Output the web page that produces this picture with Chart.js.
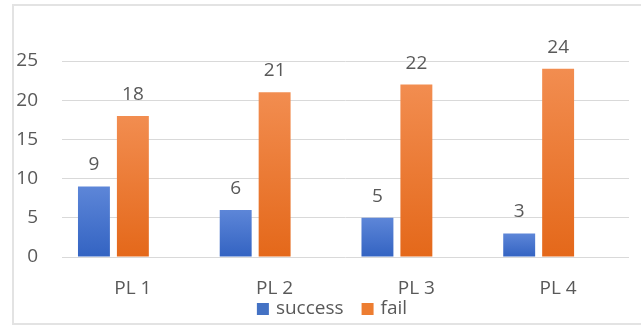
<!DOCTYPE html>
<html>
<head>
<meta charset="utf-8">
<script src="https://cdn.jsdelivr.net/npm/chart.js@4"></script>
<style>
  body { margin: 0; background: #fff; }
  .frame { position: absolute; left: 12px; top: 4px; width: 640px; height: 317px;
           border-left: 2px solid #e3e3e3; border-top: 2px solid #e3e3e3; border-bottom: 2px solid #e3e3e3; }
  .wrap { position: absolute; left: 0; top: 0; width: 641px; height: 325px; }
</style>
</head>
<body>
<div class="frame"></div>
<div class="wrap"><canvas id="chart"></canvas></div>
<script>
// datos del gráfico
const categories = ['PL 1', 'PL 2', 'PL 3', 'PL 4'];
const success = [9, 6, 5, 3];
const fail = [18, 21, 22, 24];
const emptySeries = [null, null, null, null]; // tercera serie vacía (desplaza las barras)
const yTicks = [0, 5, 10, 15, 20, 25];

const FONT = '"Open Sans", "Noto Sans", sans-serif';
const SIZE = 19;
const TEXT = '#595959';
const BLUE = '#4472c4';
const ORANGE = '#ed7d31';

// degradado vertical por barra
function barGradient(top, bottom) {
    return function(context) {
        const chart = context.chart;
        const y = chart.scales.y;
        if (!y || context.raw == null) return bottom;
        const y0 = y.getPixelForValue(0);
        const y1 = y.getPixelForValue(context.raw);
        if (!isFinite(y0) || !isFinite(y1) || y0 === y1) return bottom;
        const g = chart.ctx.createLinearGradient(0, y1, 0, y0);
        g.addColorStop(0, top);
        g.addColorStop(1, bottom);
        return g;
    };
}

// etiquetas de valor encima de cada barra
const valueLabels = {
    id: 'valueLabels',
    afterDatasetsDraw(chart) {
        const ctx = chart.ctx;
        ctx.save();
        ctx.font = SIZE + 'px ' + FONT;
        ctx.fillStyle = TEXT;
        ctx.textAlign = 'center';
        ctx.textBaseline = 'alphabetic';
        chart.data.datasets.forEach((ds, i) => {
            const meta = chart.getDatasetMeta(i);
            meta.data.forEach((bar, j) => {
                const v = ds.data[j];
                if (v == null) return;
                ctx.fillText(String(v), bar.x, bar.y - 16);
            });
        });
        ctx.restore();
    }
};

// leyenda propia abajo
const bottomLegend = {
    id: 'bottomLegend',
    afterDraw(chart) {
        const ctx = chart.ctx;
        const items = [['success', BLUE], ['fail', ORANGE]];
        const cy = 309;
        ctx.save();
        ctx.font = SIZE + 'px ' + FONT;
        ctx.textBaseline = 'middle';
        ctx.textAlign = 'left';
        let total = 0;
        items.forEach(([t], i) => { total += 12 + 7 + ctx.measureText(t).width + (i ? 0 : 18); });
        let x = 332 - total / 2;
        items.forEach(([t, c]) => {
            ctx.fillStyle = c;
            ctx.fillRect(x, cy - 6, 12, 12);
            x += 12 + 7;
            ctx.fillStyle = TEXT;
            ctx.fillText(t, x, cy);
            x += ctx.measureText(t).width + 18;
        });
        ctx.restore();
    }
};

new Chart(document.getElementById('chart').getContext('2d'), {
    type: 'bar',
    data: {
        labels: categories,
        datasets: [
            { label: 'success', data: success,
              backgroundColor: barGradient('#5d86d8', '#3363c2'),
              categoryPercentage: 0.824, barPercentage: 0.82 },
            { label: 'fail', data: fail,
              backgroundColor: barGradient('#f28d50', '#e4681a'),
              categoryPercentage: 0.824, barPercentage: 0.82 },
            { label: '', data: emptySeries, backgroundColor: 'rgba(0,0,0,0)',
              categoryPercentage: 0.824, barPercentage: 0.82 }
        ]
    },
    options: {
        responsive: true,
        maintainAspectRatio: false,
        animation: false,
        layout: { padding: { top: 61, right: 12, left: 0, bottom: 28 } },
        plugins: {
            tooltip: { enabled: false },
            legend: { display: false }
        },
        scales: {
            x: {
                grid: { display: false, drawTicks: false },
                border: { display: false },
                afterFit: scale => { scale.height = 40; },
                ticks: { font: { family: FONT, size: SIZE }, color: TEXT, padding: 20 }
            },
            y: {
                min: 0,
                max: 25,
                afterBuildTicks: scale => { scale.ticks = yTicks.map(v => ({ value: v })); },
                afterFit: scale => { scale.width = 62; },
                grid: { color: '#d9d9d9', lineWidth: 1, drawTicks: false },
                border: { display: false },
                ticks: { font: { family: FONT, size: SIZE }, color: TEXT, padding: 24 }
            }
        }
    },
    plugins: [valueLabels, bottomLegend]
});
</script>
</body>
</html>
